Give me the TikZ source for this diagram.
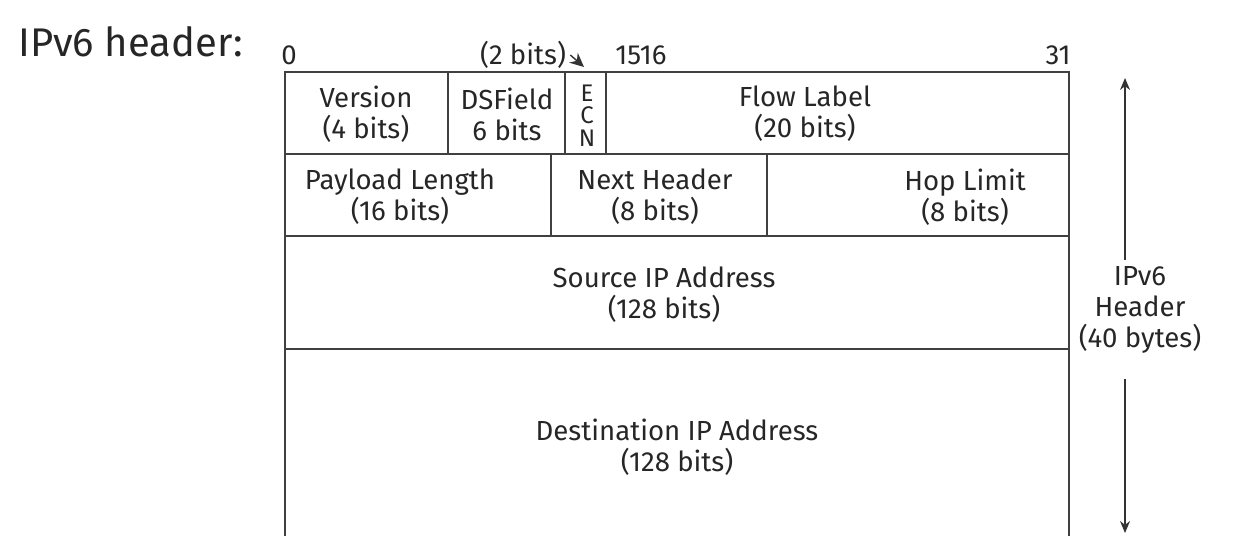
\documentclass[tikz,border=0pt]{standalone}
\usepackage{fontspec}
\setmainfont{Fira Sans}
\usetikzlibrary{positioning,arrows.meta}
\tikzstyle{grid}  = [draw=black!75, line width=0.8pt]
\tikzstyle{lbl}   = [text=black!85, font=\fontsize{13.8}{15.5}\selectfont,
                     align=center, inner sep=0pt]
\tikzstyle{letter} = [text=black!85, font=\fontsize{12}{12}\selectfont, inner sep=0pt]
\tikzstyle{title} = [text=black!85, font=\fontsize{20}{24}\selectfont, inner sep=0pt]
\tikzstyle{ptr}   = [draw=black!80, line width=0.7pt, -{Stealth[length=6pt,width=5pt]}]

\begin{document}
\begin{tikzpicture}[x=0.5pt, y=-0.5pt]
		\useasboundingbox (0,0) rectangle (1234,536);

		% frame and rows
		\draw[grid] (285,536) -- (285,72) -- (1069,72) -- (1069,536);
		\draw[grid] (285,154) -- (1069,154);
		\draw[grid] (285,236) -- (1069,236);
		\draw[grid] (285,349) -- (1069,349);
		% field borders
		\draw[grid] (448,72) -- (448,154);
		\draw[grid] (565,72) -- (565,154);
		\draw[grid] (606,72) -- (606,154);
		\draw[grid] (551,154) -- (551,236);
		\draw[grid] (767,154) -- (767,236);

		\node[title, anchor=west] (title) at (18,42) {IPv6 header:};

		\node[lbl] (b0) at (289,55) {0};
		\node[lbl] (twobits) at (523,55) {(2 bits)};
		\node[lbl] (b15) at (641,55) {1516};
		\node[lbl] (b31) at (1058,55) {31};

		\node[lbl] (version) at (366,114) {Version\\(4 bits)};
		\node[lbl] (dsfield) at (507,114) {DSField\\6 bits};
		\node[letter] (ecnE) at (587,93) {E};
		\node[letter] (ecnC) at (587,115.5) {C};
		\node[letter] (ecnN) at (587,138) {N};
		\node[lbl] (flow) at (805,114) {Flow Label\\(20 bits)};

		\node[lbl] (payload) at (400,197) {Payload Length\\(16 bits)};
		\node[lbl] (next) at (655,197) {Next Header\\(8 bits)};
		\node[lbl] (hop) at (965,197) {Hop Limit\\(8 bits)};

		\node[lbl] (src) at (664,295) {Source IP Address\\(128 bits)};
		\node[lbl] (dst) at (677,447) {Destination IP Address\\(128 bits)};

		\node[lbl] (hdr) at (1140,310) {IPv6\\Header\\(40 bytes)};

		\coordinate (ecnpt) at (584,67);
		\coordinate (hdrtop) at (1125,78);
		\coordinate (hdrup) at (1125,260);
		\coordinate (hdrdown) at (1125,379);
		\coordinate (hdrbot) at (1125,533);

		\draw[ptr, -{Stealth[length=7pt,width=6.5pt]}] ([xshift=2pt]twobits.east) -- (ecnpt);
		\draw[ptr] (hdrup) -- (hdrtop);
		\draw[ptr] (hdrdown) -- (hdrbot);
	\end{tikzpicture}
\end{document}
